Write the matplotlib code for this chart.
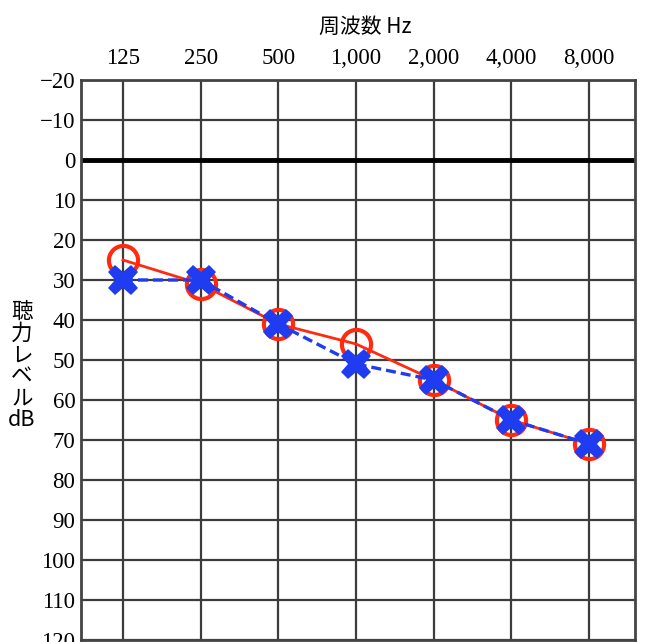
import numpy as np
import matplotlib
matplotlib.use('Agg')
import matplotlib.pyplot as plt

# Audiogram values
freq_labels = ['125', '250', '500', '1,000', '2,000', '4,000', '8,000']
right_ear = [25, 31, 41, 46, 55, 65, 71]   # red circles
left_ear = [30, 30, 41, 51, 55, 65, 71]    # blue crosses
db_ticks = [-20, -10, 0, 10, 20, 30, 40, 50, 60, 70, 80, 90, 100, 110, 120]

num_font = 'Liberation Serif'
jp_font = ['Noto Sans CJK JP', 'DejaVu Sans']

x = np.arange(len(freq_labels))

fig = plt.figure(figsize=(6.46, 6.42), dpi=100)
ax = fig.add_axes([81 / 646, 1 - 640 / 642, (635 - 81) / 646, (640 - 80) / 642])

# grid
for xi in x:
    ax.axvline(xi, color='#3c3c3c', lw=1.6, zorder=1)
for yi in db_ticks:
    ax.axhline(yi, color='#3c3c3c', lw=1.6, zorder=1)
ax.axhline(0, color='black', lw=3.5, zorder=2)

ax.plot(x, right_ear, color='#ff2a10', lw=2.0, zorder=3,
        marker='o', markersize=21, markerfacecolor='none',
        markeredgecolor='#ff2a10', markeredgewidth=3.0)
ax.plot(x, left_ear, color='#1f3cf0', lw=2.4, ls=(0, (3, 1.5)), zorder=4,
        marker='X', markersize=22, markerfacecolor='#1f3cf0',
        markeredgecolor='#1f3cf0', markeredgewidth=0)

ax.set_xlim(-0.54, 6.59)
ax.set_ylim(120, -20)

ax.set_xticks(x)
ax.set_xticklabels(freq_labels, fontfamily=num_font, fontsize=16.5)
ax.xaxis.tick_top()
ax.set_yticks(db_ticks)
ax.set_yticklabels([('\u2212' + str(-v)) if v < 0 else str(v) for v in db_ticks],
                   fontfamily=num_font, fontsize=16.5)
ax.tick_params(length=0, pad=4)
ax.tick_params(axis='x', pad=8)

for s in ax.spines.values():
    s.set_color('#444444')
    s.set_linewidth(2)

fig.text(365 / 646, 1 - 27 / 642, '周波数 Hz', ha='center', va='center',
         fontsize=15, family=jp_font)
fig.text(22 / 646, 1 - 366 / 642, '聴\n力\nレ\nベ\nル\ndB', ha='center', va='center',
         fontsize=15.5, family=jp_font, linespacing=0.98)

fig.savefig('out.png', dpi=100)
